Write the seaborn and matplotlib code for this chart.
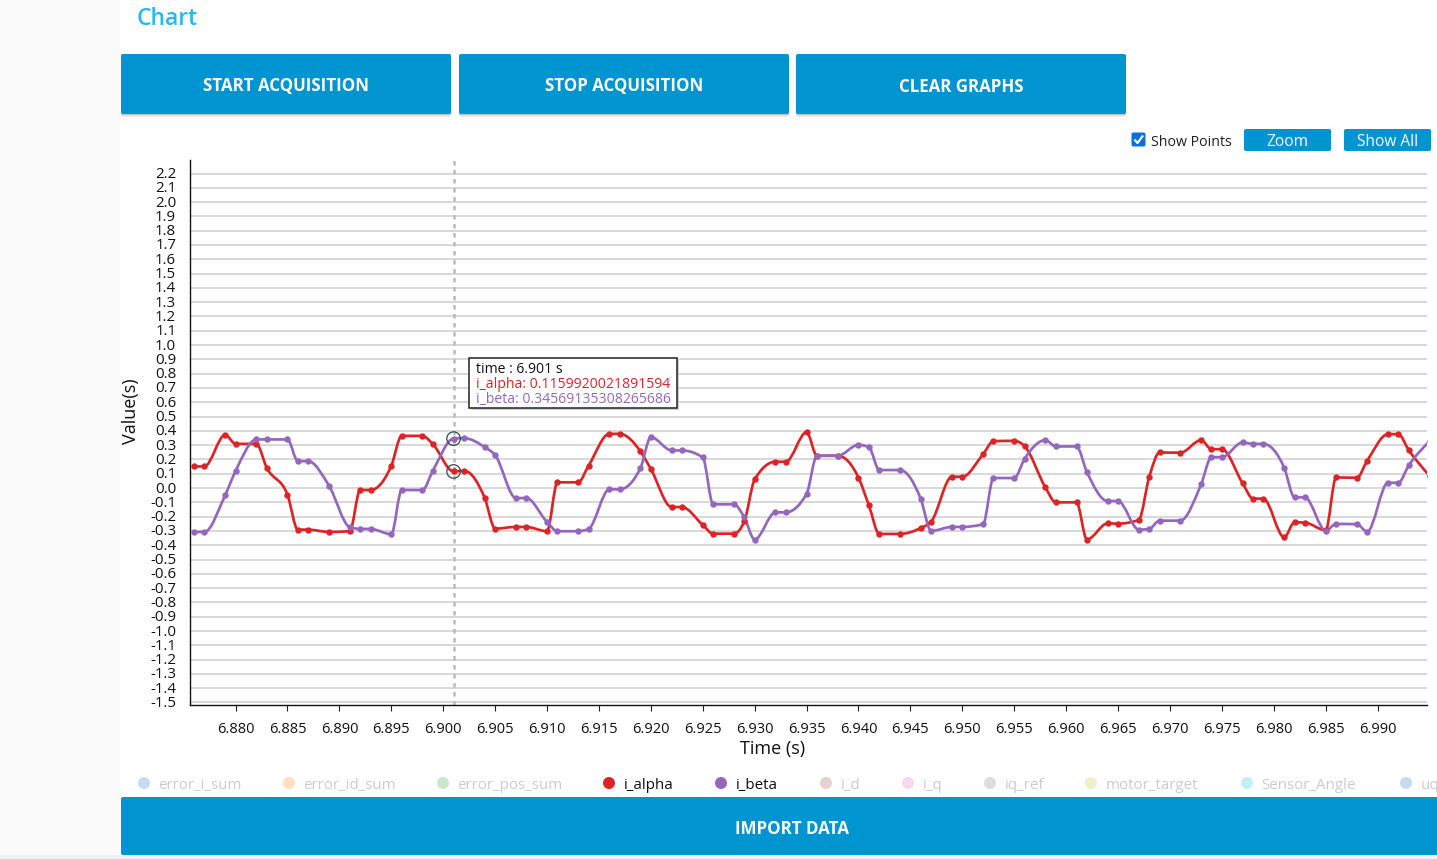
import numpy as np
import pandas as pd
import matplotlib
matplotlib.use("Agg")
import matplotlib.pyplot as plt
from matplotlib.path import Path
from matplotlib.patches import PathPatch, FancyBboxPatch, Rectangle, Circle
from matplotlib.transforms import ScaledTranslation
import seaborn as sns

time_s = [6.876, 6.877, 6.879, 6.880, 6.882, 6.883, 6.885, 6.886, 6.887, 6.889, 6.891, 6.892, 6.893, 6.895,
          6.896, 6.898, 6.899, 6.901, 6.902, 6.904, 6.905, 6.907, 6.908, 6.910, 6.911, 6.913, 6.914,
          6.916, 6.917, 6.919, 6.920, 6.922, 6.923, 6.925, 6.926, 6.928, 6.929, 6.930, 6.932, 6.933,
          6.935, 6.936, 6.938, 6.940, 6.941, 6.942, 6.944, 6.946, 6.947, 6.949, 6.950, 6.952, 6.953,
          6.955, 6.956, 6.958, 6.959, 6.961, 6.962, 6.964, 6.965, 6.967, 6.968, 6.969, 6.971, 6.973,
          6.974, 6.975, 6.977, 6.978, 6.979, 6.981, 6.982, 6.983, 6.985, 6.986, 6.988, 6.989, 6.991,
          6.992, 6.993, 6.995]
i_alpha = [0.151, 0.151, 0.372, 0.309, 0.309, 0.142, -0.047, -0.291, -0.291, -0.307, -0.302, -0.014, -0.014,
           0.156, 0.365, 0.365, 0.307, 0.116, 0.121, -0.070, -0.284, -0.272, -0.272, -0.302, 0.040, 0.040, 0.156,
           0.379, 0.379, 0.256, 0.133, -0.133, -0.133, -0.258, -0.319, -0.319, -0.233, 0.060, 0.184, 0.184,
           0.391, 0.226, 0.226, 0.072, -0.121, -0.321, -0.321, -0.279, -0.235, 0.079, 0.079, 0.237, 0.328,
           0.330, 0.293, 0.005, -0.100, -0.100, -0.360, -0.247, -0.249, -0.223, 0.077, 0.249, 0.247, 0.335,
           0.272, 0.272, 0.033, -0.074, -0.074, -0.344, -0.240, -0.242, -0.295, 0.074, 0.072, 0.191, 0.377,
           0.377, 0.265, 0.086]
i_beta = [-0.307, -0.307, -0.049, 0.119, 0.340, 0.340, 0.340, 0.188, 0.188, 0.016, -0.274, -0.286, -0.286,
          -0.323, -0.014, -0.014, 0.121, 0.346, 0.349, 0.286, 0.230, -0.070, -0.070, -0.237, -0.302, -0.302, -0.286,
          -0.009, -0.009, 0.140, 0.356, 0.263, 0.263, 0.214, -0.114, -0.114, -0.205, -0.360, -0.170, -0.170,
          -0.040, 0.226, 0.226, 0.302, 0.286, 0.126, 0.126, -0.077, -0.300, -0.272, -0.272, -0.253, 0.070,
          0.070, 0.205, 0.335, 0.291, 0.291, 0.112, -0.091, -0.091, -0.291, -0.286, -0.228, -0.228, 0.026,
          0.216, 0.216, 0.319, 0.309, 0.309, 0.142, -0.065, -0.065, -0.298, -0.251, -0.253, -0.305, 0.037,
          0.037, 0.158, 0.326]
series_colors = {"i_alpha": "#dc2426", "i_beta": "#9467bd"}
x_ticks = [6.880, 6.885, 6.890, 6.895, 6.900, 6.905, 6.910, 6.915, 6.920, 6.925, 6.930, 6.935, 6.940,
           6.945, 6.950, 6.955, 6.960, 6.965, 6.970, 6.975, 6.980, 6.985, 6.990]
y_ticks = [-1.5, -1.4, -1.3, -1.2, -1.1, -1.0, -0.9, -0.8, -0.7, -0.6, -0.5, -0.4, -0.3, -0.2, -0.1, 0.0,
           0.1, 0.2, 0.3, 0.4, 0.5, 0.6, 0.7, 0.8, 0.9, 1.0, 1.1, 1.2, 1.3, 1.4, 1.5, 1.6, 1.7, 1.8, 1.9,
           2.0, 2.1, 2.2]
legend_names = ["error_i_sum", "error_id_sum", "error_pos_sum", "i_alpha", "i_beta", "i_d", "i_q", "iq_ref",
                "motor_target", "Sensor_Angle", "uq"]
legend_colors = ["#c6dbef", "#ffdfc4", "#c9e8c9", "#dc2426", "#9467bd", "#e3d3d0", "#f7d9ee", "#dddddd",
                 "#eff0c8", "#c3eff3", "#c6dbef"]
legend_active = [False, False, False, True, True, False, False, False, False, False, False]
legend_dot_px = [144, 289, 443, 609, 721, 826, 908, 990, 1091, 1247, 1406]
buttons = ["START ACQUISITION", "STOP ACQUISITION", "CLEAR GRAPHS"]
button_left_px = [121, 459, 796]

W, H = 1437, 859
BLUE = "#0094d0"
sns.set_theme(style="white")
plt.rcParams["font.family"] = ["Open Sans", "DejaVu Sans"]
fig = plt.figure(figsize=(W / 100, H / 100), dpi=100, facecolor="white")

# page furniture, in pixel coordinates
ui = fig.add_axes([0, 0, 1, 1], zorder=0)
ui.set_xlim(0, W); ui.set_ylim(H, 0); ui.axis("off")
ui.add_patch(Rectangle((0, 0), 120, H, fc="#fafafa", ec="none"))
ui.add_patch(Rectangle((0, 855), W, 4, fc="#eef2f4", ec="none"))

def button(x, y, w, h, label, size, weight="normal", shadow=True, dy=0):
    if shadow:
        for off, a in [(3, 0.18), (2, 0.3), (1, 0.4)]:
            ui.add_patch(FancyBboxPatch((x, y + off), w, h, boxstyle="round,pad=0,rounding_size=2",
                                        fc="#aaaaaa", ec="none", alpha=a))
    ui.add_patch(FancyBboxPatch((x, y), w, h, boxstyle="round,pad=0,rounding_size=2", fc=BLUE, ec="none"))
    ui.text(x + w / 2, y + h / 2 + dy, label, color="white", fontsize=size, weight=weight, ha="center",
            va="center_baseline")

ui.text(137, 16.3, "Chart", color="#29b6f6", fontsize=16.5, weight="semibold", ha="left", va="center_baseline")
for left, label in zip(button_left_px, buttons):
    button(left, 54, 330, 60, label, 12.2, "bold", dy=0.5)
button(1244, 129, 87, 22, "Zoom", 11.2, shadow=False, dy=0.5)
button(1344, 129, 87, 22, "Show All", 11.2, shadow=False, dy=0.5)
ui.add_patch(FancyBboxPatch((1131.5, 132.5), 14, 14, boxstyle="round,pad=0,rounding_size=2", fc="#0b6fe0", ec="none"))
ui.plot([1134.5, 1137.5, 1143], [139.5, 143, 135.5], color="white", lw=1.6, solid_capstyle="butt")
ui.text(1151, 141, "Show Points", color="#222222", fontsize=10.2, ha="left", va="center_baseline")
button(121, 797, 1342, 58, "IMPORT DATA", 12.2, "bold", shadow=False, dy=1)

for name, color, active, dot in zip(legend_names, legend_colors, legend_active, legend_dot_px):
    ui.add_patch(Circle((dot, 783), 6, fc=color, ec="none"))
    ui.text(dot + 14.5, 783.5, name, color="#111111" if active else "#cccccc", fontsize=10.9, ha="left",
            va="center_baseline", clip_on=True)

# chart axes
ax = fig.add_axes([190 / W, 1 - 705 / H, (1426.5 - 190) / W, (705 - 160) / H], zorder=1)
ax.patch.set_alpha(0)
ax.set_xlim(6.87561, 6.99471)
ax.set_ylim(-1.5175, 2.2945)

df = pd.DataFrame({"time": time_s * 2, "value": i_alpha + i_beta,
                   "series": ["i_alpha"] * len(time_s) + ["i_beta"] * len(time_s)})

def monotone_path(xs, ys):
    xs, ys = np.asarray(xs), np.asarray(ys)
    h = np.diff(xs)
    s = np.diff(ys) / h
    t = np.zeros_like(ys)
    p = (s[:-1] * h[1:] + s[1:] * h[:-1]) / (h[:-1] + h[1:])
    t[1:-1] = (np.sign(s[:-1]) + np.sign(s[1:])) * np.minimum.reduce([np.abs(s[:-1]), np.abs(s[1:]), 0.5 * np.abs(p)])
    t[0] = (3 * s[0] - t[1]) / 2
    t[-1] = (3 * s[-1] - t[-2]) / 2
    verts, codes = [(xs[0], ys[0])], [Path.MOVETO]
    for i in range(len(xs) - 1):
        d = h[i] / 3
        verts += [(xs[i] + d, ys[i] + d * t[i]), (xs[i + 1] - d, ys[i + 1] - d * t[i + 1]), (xs[i + 1], ys[i + 1])]
        codes += [Path.CURVE4] * 3
    return Path(verts, codes)

for name, values in [("i_alpha", i_alpha), ("i_beta", i_beta)]:
    ax.add_patch(PathPatch(monotone_path(time_s, values), fc="none", ec=series_colors[name], lw=1.95, zorder=3))

sns.lineplot(data=df, x="time", y="value", hue="series", palette=series_colors, ax=ax, legend=False,
             estimator=None, sort=False, linewidth=0, marker="o", markersize=4.6, markeredgewidth=0, zorder=4)

ax.set_xticks(x_ticks)
ax.set_xticklabels([f"{v:.3f}" for v in x_ticks], fontsize=10.5, color="#111111")
ax.set_yticks(y_ticks)
ax.set_yticklabels([f"{v:.1f}" for v in y_ticks], fontsize=10.8, color="#111111")
ax.tick_params(axis="y", length=0, pad=10)
ax.tick_params(axis="x", length=4.4, width=0.8, color="#222222", bottom=True, pad=7.6)
up = ScaledTranslation(0, 1 / 100, fig.dpi_scale_trans)
for label in ax.get_yticklabels():
    label.set_transform(label.get_transform() + up)
ax.yaxis.grid(True, color="#d2d2d2", lw=1.2)
ax.xaxis.grid(False)
ax.set_axisbelow(True)
ax.set_xlabel("Time (s)", fontsize=13, color="#111111")
ax.xaxis.set_label_coords((772.5 - 190) / 1236.5, -(740 - 705) / 545)
ax.set_ylabel("Value(s)", fontsize=13, color="#111111")
ax.yaxis.set_label_coords(-(190 - 140) / 1236.5, (705 - 411) / 545)
for side in ("top", "right"):
    ax.spines[side].set_visible(False)
for side in ("left", "bottom"):
    ax.spines[side].set_color("#111111")
    ax.spines[side].set_linewidth(1.0)

# hover state
hover_time = 6.901
hover_alpha = 0.1159920021891594
hover_beta = 0.34569135308265686
ax.axvline(hover_time, color="#bbbbbb", lw=1.8, ls=(0, (1.8, 1.8)), zorder=2)
sns.scatterplot(x=[hover_time, hover_time], y=[hover_alpha, hover_beta], ax=ax, s=95, facecolor="none",
                edgecolor="#2f4f4f", linewidth=0.9, zorder=5, legend=False)

ui2 = fig.add_axes([0, 0, 1, 1], zorder=2)
ui2.set_xlim(0, W); ui2.set_ylim(H, 0); ui2.axis("off")
ui2.add_patch(Rectangle((471, 360), 208, 50, fc="#bdbdbd", ec="none", alpha=0.7))
ui2.add_patch(Rectangle((469, 358), 208, 50, fc="white", ec="#222222", lw=1.1))
ui2.text(475.5, 367.5, f"time : {hover_time} s", color="#111111", fontsize=10.1, va="center_baseline")
ui2.text(475.5, 382.5, f"i_alpha: {hover_alpha}", color=series_colors["i_alpha"], fontsize=10.1, va="center_baseline")
ui2.text(475.5, 397.5, f"i_beta: {hover_beta}", color=series_colors["i_beta"], fontsize=10.1, va="center_baseline")

fig.savefig("out.png", dpi=100, facecolor="white")
